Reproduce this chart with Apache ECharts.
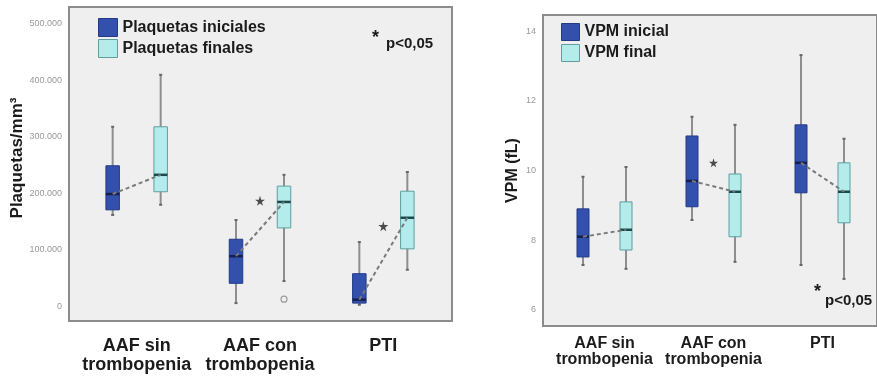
<!DOCTYPE html>
<html>
<head>
<meta charset="utf-8">
<script src="https://cdn.jsdelivr.net/npm/echarts@6/dist/echarts.min.js"></script>
<style>
  html, body { margin: 0; padding: 0; background: #fff; }
  #chart { width: 877px; height: 378px; }
</style>
</head>
<body>
<div id="chart"></div>
<script>
const groups = ['AAF sin\ntrombopenia', 'AAF con\ntrombopenia', 'PTI']

// each box: [min, Q1, mediana, Q3, max]
const plaqIni = [[162000, 171000, 199000, 249000, 318000], [6000, 41000, 89000, 119000, 153000], [3000, 6000, 12000, 58000, 114000]]
const plaqFin = [[180000, 203000, 233000, 318000, 410000], [45000, 139000, 185000, 213000, 233000], [65000, 102000, 157000, 204000, 238000]]
const plaqOutliers = [[1, 13000]]
const plaqSig = [[1, 187000], [2, 142000]]
const plaqTicks = [0, 100000, 200000, 300000, 400000, 500000]

const vpmIni = [[7.29, 7.52, 8.1, 8.9, 9.82], [8.58, 8.96, 9.7, 10.99, 11.54], [7.29, 9.36, 10.22, 11.31, 13.31]]
const vpmFin = [[7.18, 7.72, 8.3, 9.1, 10.1], [7.38, 8.1, 9.39, 9.9, 11.31], [6.89, 8.5, 9.39, 10.22, 10.91]]
const vpmSig = [[1, 10.22]]
const vpmTicks = [6, 8, 10, 12, 14]

const FONT = '"Liberation Sans", Arial, sans-serif'
const INI = '#3450ad', INI_B = '#223a88', INI_M = '#14214f'
const FIN = '#b4ecec', FIN_B = '#5f9d9e', FIN_M = '#1c4a4c'
const STAR = 'path://M50,0 L61,35 L98,35 L68,57 L79,91 L50,70 L21,91 L32,57 L2,35 L39,35 Z'

function boxRenderer(off, bw, fill, stroke, medColor) {
  return function (params, api) {
    const c = api.value(0)
    const x = api.coord([c, 0])[0] + off
    const y = [1, 2, 3, 4, 5].map((d) => api.coord([c, api.value(d)])[1])
    return {
      type: 'group',
      children: [
        { type: 'line', shape: { x1: x, y1: y[4], x2: x, y2: y[0] }, style: { stroke: '#8e8e8e', lineWidth: 2 } },
        { type: 'line', shape: { x1: x - 1.5, y1: y[4], x2: x + 1.5, y2: y[4] }, style: { stroke: '#666', lineWidth: 2 } },
        { type: 'line', shape: { x1: x - 1.5, y1: y[0], x2: x + 1.5, y2: y[0] }, style: { stroke: '#666', lineWidth: 2 } },
        { type: 'rect', shape: { x: x - bw / 2, y: y[3], width: bw, height: y[1] - y[3] }, style: { fill, stroke, lineWidth: 1 } },
        { type: 'line', shape: { x1: x - bw / 2, y1: y[2], x2: x + bw / 2, y2: y[2] }, style: { stroke: medColor, lineWidth: 2.5 } },
      ],
    }
  }
}

function linkRenderer(off) {
  return function (params, api) {
    const c = api.value(0)
    const a = api.coord([c, api.value(1)])
    const b = api.coord([c, api.value(2)])
    return {
      type: 'line',
      shape: { x1: a[0] - off, y1: a[1], x2: b[0] + off, y2: b[1] },
      style: { stroke: '#7a7a7a', lineWidth: 2, lineDash: [4, 3] },
    }
  }
}

const rows = (arr) => arr.map((b, i) => [i, ...b])
const links = (ini, fin) => ini.map((b, i) => [i, b[2], fin[i][2]])

function boxSeries(name, axis, data, off, bw, fill, stroke, med) {
  return {
    name, type: 'custom', xAxisIndex: axis, yAxisIndex: axis,
    itemStyle: { color: fill, borderColor: stroke },
    encode: { x: 0, y: [1, 2, 3, 4, 5] },
    renderItem: boxRenderer(off, bw, fill, stroke, med),
    data: rows(data), z: 3,
  }
}

function legendItem(name, fill, stroke) {
  return { name, icon: 'rect', itemStyle: { color: fill, borderColor: stroke, borderWidth: 1 } }
}

const legendText = { fontFamily: FONT, fontWeight: 'bold', fontSize: 16, color: '#1b1b1b' }

const chart = echarts.init(document.getElementById('chart'))
chart.setOption({
  animation: false,
  backgroundColor: '#fff',
  grid: [
    { left: 69, right: 425, top: 7, bottom: 57, show: true, backgroundColor: '#efefef', borderColor: '#8c8c8c', borderWidth: 2 },
    { left: 75, right: 432, top: 7, bottom: 57 },
    { left: 543, right: -6, top: 15, bottom: 52, show: true, backgroundColor: '#efefef', borderColor: '#8c8c8c', borderWidth: 2 },
    { left: 550, right: -1, top: 15, bottom: 52 },
  ],
  xAxis: [
    { gridIndex: 0, type: 'value', show: false },
    {
      gridIndex: 1, type: 'category', data: groups,
      axisLine: { show: false },
      axisTick: { alignWithLabel: true, interval: 0, length: 9, lineStyle: { color: '#777', width: 2 } },
      axisLabel: { interval: 0, hideOverlap: false, margin: 16, fontFamily: FONT, fontWeight: 'bold', fontSize: 18, lineHeight: 19, color: '#1b1b1b' },
    },
    { gridIndex: 2, type: 'value', show: false },
    {
      gridIndex: 3, type: 'category', data: groups,
      axisLine: { show: false },
      axisTick: { alignWithLabel: true, interval: 0, length: 5, lineStyle: { color: '#777', width: 2 } },
      axisLabel: { interval: 0, hideOverlap: false, margin: 10, fontFamily: FONT, fontWeight: 'bold', fontSize: 16, lineHeight: 16, color: '#1b1b1b' },
    },
  ],
  yAxis: [
    { gridIndex: 0, type: 'value', show: false },
    {
      gridIndex: 1, type: 'value', min: -25700, max: 530000, offset: 6,
      name: 'Plaquetas/mm³', nameLocation: 'middle', nameGap: 42,
      nameTextStyle: { fontFamily: FONT, fontWeight: 'bold', fontSize: 17, color: '#1b1b1b', padding: [0, 0, 0, 12] },
      axisLine: { show: false },
      axisTick: { length: 5, customValues: plaqTicks, lineStyle: { color: '#888' } },
      axisLabel: {
        customValues: plaqTicks, margin: 7, fontFamily: FONT, fontSize: 9, color: '#999',
        formatter: (v) => (v === 0 ? '0' : v / 1000 + '.000'),
      },
      splitLine: { show: false },
    },
    { gridIndex: 2, type: 'value', show: false },
    {
      gridIndex: 3, type: 'value', min: 5.54, max: 14.46, offset: 7,
      name: 'VPM (fL)', nameLocation: 'middle', nameGap: 22,
      nameTextStyle: { fontFamily: FONT, fontWeight: 'bold', fontSize: 16, color: '#1b1b1b' },
      axisLine: { show: false },
      axisTick: { length: 5, customValues: vpmTicks, lineStyle: { color: '#888' } },
      axisLabel: { customValues: vpmTicks, margin: 7, fontFamily: FONT, fontSize: 9, color: '#999' },
      splitLine: { show: false },
    },
  ],
  legend: [
    {
      left: 98, top: 18, orient: 'vertical', padding: 0, itemWidth: 19, itemHeight: 18, itemGap: 2,
      selectedMode: false, textStyle: legendText,
      data: [legendItem('Plaquetas iniciales', INI, INI_B), legendItem('Plaquetas finales', FIN, FIN_B)],
    },
    {
      left: 561, top: 23, orient: 'vertical', padding: 0, itemWidth: 18, itemHeight: 17, itemGap: 3,
      selectedMode: false, textStyle: legendText,
      data: [legendItem('VPM inicial', INI, INI_B), legendItem('VPM final', FIN, FIN_B)],
    },
  ],
  graphic: [
    { type: 'text', left: 372, top: 29, style: { text: '*', font: 'bold 18px ' + FONT, fill: '#1b1b1b' } },
    { type: 'text', left: 386, top: 36, style: { text: 'p<0,05', font: 'bold 15px ' + FONT, fill: '#1b1b1b' } },
    { type: 'text', left: 814, top: 283, style: { text: '*', font: 'bold 18px ' + FONT, fill: '#1b1b1b' } },
    { type: 'text', left: 825, top: 293, style: { text: 'p<0,05', font: 'bold 15px ' + FONT, fill: '#1b1b1b' } },
  ],
  series: [
    boxSeries('Plaquetas iniciales', 1, plaqIni, -24, 13.5, INI, INI_B, INI_M),
    boxSeries('Plaquetas finales', 1, plaqFin, 24, 13.5, FIN, FIN_B, FIN_M),
    { type: 'custom', xAxisIndex: 1, yAxisIndex: 1, renderItem: linkRenderer(24), encode: { x: 0, y: [1, 2] }, data: links(plaqIni, plaqFin), z: 4 },
    {
      type: 'scatter', xAxisIndex: 1, yAxisIndex: 1, data: plaqOutliers, symbol: 'circle', symbolSize: 6,
      symbolOffset: [24, 0], itemStyle: { color: 'rgba(0,0,0,0)', borderColor: '#888', borderWidth: 1.2 }, z: 4,
    },
    { type: 'scatter', xAxisIndex: 1, yAxisIndex: 1, data: plaqSig, symbol: STAR, symbolSize: 10, itemStyle: { color: '#222' }, z: 4 },

    boxSeries('VPM inicial', 3, vpmIni, -21.5, 12, INI, INI_B, INI_M),
    boxSeries('VPM final', 3, vpmFin, 21.5, 12, FIN, FIN_B, FIN_M),
    { type: 'custom', xAxisIndex: 3, yAxisIndex: 3, renderItem: linkRenderer(21.5), encode: { x: 0, y: [1, 2] }, data: links(vpmIni, vpmFin), z: 4 },
    { type: 'scatter', xAxisIndex: 3, yAxisIndex: 3, data: vpmSig, symbol: STAR, symbolSize: 9, itemStyle: { color: '#222' }, z: 4 },
  ],
})
</script>
</body>
</html>
